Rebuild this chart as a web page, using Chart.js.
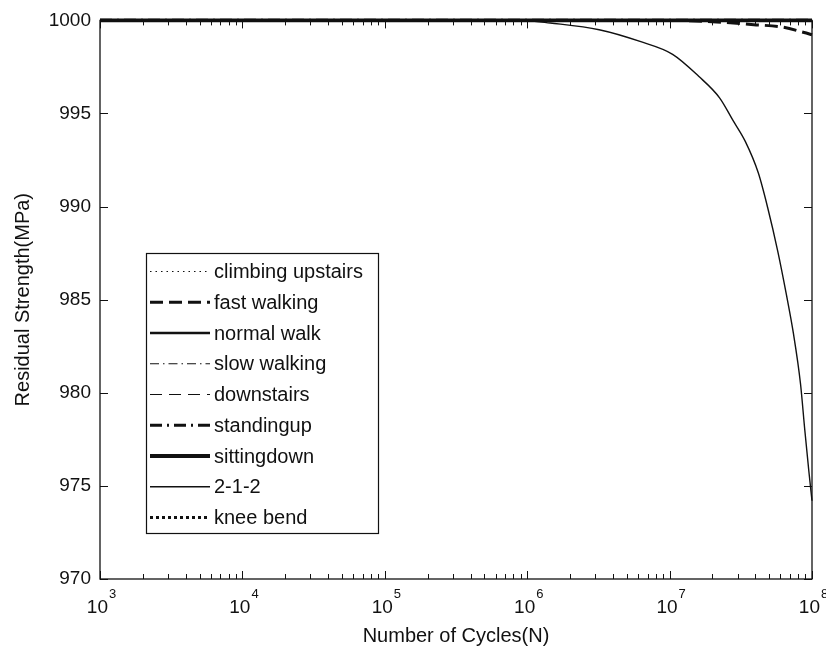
<!DOCTYPE html>
<html>
<head>
<meta charset="utf-8">
<script src="https://cdn.jsdelivr.net/npm/chart.js@4.4.1/dist/chart.umd.min.js"></script>
<style>
  html, body { margin: 0; padding: 0; background: #fff; }
  canvas { display: block; }
</style>
</head>
<body>
<canvas id="fatigueChart" width="826" height="647"></canvas>
<script>
// Residual strength vs number of cycles for the different activities

// series names (legend order)
var seriesNames = ['climbing upstairs', 'fast walking', 'normal walk', 'slow walking',
  'downstairs', 'standingup', 'sittingdown', '2-1-2', 'knee bend'];

// cycles / residual strength (MPa)
var cyclesFlat = [1e3, 1e8];
var climbingUpstairs = [1000, 1000];
var normalWalk = [1000, 1000];
var slowWalking = [1000, 1000];
var downstairs = [1000, 1000];
var standingUp = [1000, 1000];
var sittingDown = [1000, 1000];
var kneeBend = [1000, 1000];

var cyclesFast = [1e3, 1e7, 2e7, 3.9e7, 6.2e7, 8.8e7, 1e8];
var fastWalking = [1000, 1000, 999.93, 999.77, 999.64, 999.35, 999.23];

var cycles212 = [1e3, 1e5, 1e6, 1.45e6, 3.2e6, 6.2e6, 1.05e7, 1.6e7, 2.25e7, 2.8e7,
  3.4e7, 4.2e7, 4.9e7, 5.75e7, 6.6e7, 7.4e7, 8.3e7, 8.9e7, 9.5e7, 1e8];
var twoOneTwo = [1000, 1000, 999.98, 999.86, 999.5, 998.87, 998.18, 997.0, 995.83, 994.6,
  993.5, 991.8, 989.9, 987.6, 985.3, 983.2, 980.5, 978.0, 975.8, 974.2];

// axis ticks
var yTicks = [970, 975, 980, 985, 990, 995, 1000];
var xTicks = [1e3, 1e4, 1e5, 1e6, 1e7, 1e8];
var xTickExponents = ['3', '4', '5', '6', '7', '8'];

var xTitle = 'Number of Cycles(N)';
var yTitle = 'Residual Strength(MPa)';

// matlab-ish line styles, same order as seriesNames
var lineStyles = [
  { width: 1.2, dash: [1.5, 4] },
  { width: 3, dash: [13, 6] },
  { width: 2.4, dash: [] },
  { width: 1.2, dash: [9, 4, 1.5, 4] },
  { width: 1.2, dash: [12, 7] },
  { width: 3.2, dash: [12, 5, 2, 5] },
  { width: 3.8, dash: [] },
  { width: 1.4, dash: [] },
  { width: 3, dash: [3, 3] }
];

var seriesX = [cyclesFlat, cyclesFast, cyclesFlat, cyclesFlat, cyclesFlat, cyclesFlat, cyclesFlat, cycles212, cyclesFlat];
var seriesY = [climbingUpstairs, fastWalking, normalWalk, slowWalking, downstairs, standingUp, sittingDown, twoOneTwo, kneeBend];

var ink = '#111';
var fontFamily = '"Liberation Sans", Arial, sans-serif';

function toPoints(xs, ys) {
  var pts = [];
  for (var i = 0; i < xs.length; i++) {
    pts.push({ x: xs[i], y: ys[i] });
  }
  return pts;
}

var datasets = seriesNames.map(function (name, i) {
  return {
    label: name,
    data: toPoints(seriesX[i], seriesY[i]),
    borderColor: ink,
    borderWidth: lineStyles[i].width,
    borderDash: lineStyles[i].dash,
    borderCapStyle: 'butt',
    pointRadius: 0,
    cubicInterpolationMode: 'monotone',
    fill: false,
    clip: 6
  };
});

/**
 * Plugin that draws the matlab style box, inward ticks, x labels,
 * axis titles and the boxed legend
 */
var matlabAxes = {
  id: 'matlabAxes',
  afterDraw: function (chart) {
    var ctx = chart.ctx;
    var area = chart.chartArea;
    var xs = chart.scales.x;
    var ys = chart.scales.y;
    ctx.save();

    // frame
    ctx.strokeStyle = ink;
    ctx.lineWidth = 1.3;
    ctx.setLineDash([]);
    ctx.strokeRect(area.left, area.top, area.right - area.left, area.bottom - area.top);

    // y ticks, both sides
    ctx.lineWidth = 1;
    yTicks.forEach(function (v) {
      var py = Math.round(ys.getPixelForValue(v)) + 0.5;
      ctx.beginPath();
      ctx.moveTo(area.left, py); ctx.lineTo(area.left + 8, py);
      ctx.moveTo(area.right, py); ctx.lineTo(area.right - 8, py);
      ctx.stroke();
    });

    // x ticks, major and minor, top and bottom
    for (var d = 0; d < xTicks.length; d++) {
      for (var m = 1; m <= 9; m++) {
        if (m > 1 && d === xTicks.length - 1) break;
        var px = Math.round(xs.getPixelForValue(xTicks[d] * m)) + 0.5;
        var len = m === 1 ? 8 : 5;
        ctx.beginPath();
        ctx.moveTo(px, area.bottom); ctx.lineTo(px, area.bottom - len);
        ctx.moveTo(px, area.top); ctx.lineTo(px, area.top + len);
        ctx.stroke();
      }
    }

    // x tick labels 10^n
    ctx.fillStyle = ink;
    ctx.textBaseline = 'alphabetic';
    xTicks.forEach(function (v, i) {
      var px = xs.getPixelForValue(v);
      ctx.font = '19px ' + fontFamily;
      ctx.textAlign = 'right';
      ctx.fillText('10', px + 8, area.bottom + 34);
      ctx.font = '13px ' + fontFamily;
      ctx.textAlign = 'left';
      ctx.fillText(xTickExponents[i], px + 9, area.bottom + 19);
    });

    // axis titles
    ctx.font = '20px ' + fontFamily;
    ctx.textAlign = 'center';
    ctx.fillText(xTitle, (area.left + area.right) / 2, area.bottom + 63);
    ctx.save();
    ctx.translate(29, (area.top + area.bottom) / 2);
    ctx.rotate(-Math.PI / 2);
    ctx.fillText(yTitle, 0, 0);
    ctx.restore();

    // legend box
    var boxL = 146, boxT = 253, boxR = 378, boxB = 533;
    ctx.fillStyle = '#fff';
    ctx.fillRect(boxL, boxT, boxR - boxL, boxB - boxT);
    ctx.strokeStyle = ink;
    ctx.lineWidth = 1.2;
    ctx.strokeRect(boxL + 0.5, boxT + 0.5, boxR - boxL, boxB - boxT);

    ctx.font = '20px ' + fontFamily;
    ctx.textAlign = 'left';
    ctx.textBaseline = 'middle';
    seriesNames.forEach(function (name, i) {
      var ly = 271.5 + i * 30.75;
      ctx.beginPath();
      ctx.lineWidth = lineStyles[i].width;
      ctx.setLineDash(lineStyles[i].dash);
      ctx.lineCap = 'butt';
      ctx.moveTo(150, ly);
      ctx.lineTo(210, ly);
      ctx.stroke();
      ctx.fillStyle = ink;
      ctx.fillText(name, 214, ly + 1);
    });

    ctx.restore();
  }
};

var ctx = document.getElementById('fatigueChart').getContext('2d');
var chart = new Chart(ctx, {
  type: 'line',
  data: { datasets: datasets },
  options: {
    responsive: false,
    animation: false,
    layout: { padding: { top: 19, right: 14, left: 0, bottom: 0 } },
    plugins: {
      legend: { display: false },
      tooltip: { enabled: false }
    },
    scales: {
      x: {
        type: 'logarithmic',
        min: 1e3,
        max: 1e8,
        grid: { display: false, drawTicks: false },
        border: { display: false },
        ticks: { display: false },
        afterFit: function (scale) { scale.height = 68; }
      },
      y: {
        type: 'linear',
        min: 970,
        max: 1000,
        grid: { display: false, drawTicks: false },
        border: { display: false },
        afterBuildTicks: function (scale) {
          scale.ticks = yTicks.map(function (v) { return { value: v }; });
        },
        ticks: {
          color: ink,
          padding: 9,
          font: { family: fontFamily, size: 19 },
          callback: function (value) { return String(value); }
        },
        afterFit: function (scale) { scale.width = 100; }
      }
    }
  },
  plugins: [matlabAxes]
});
</script>
</body>
</html>
